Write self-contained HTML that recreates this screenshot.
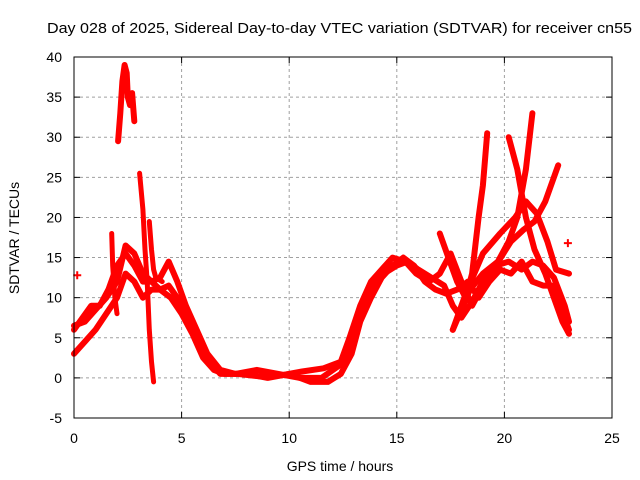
<!DOCTYPE html>
<html><head><meta charset="utf-8"><style>
body{margin:0;background:#fff;}
svg{display:block;font-family:"Liberation Sans",sans-serif;}
</style></head><body>
<svg id="chart" width="640" height="480">
<rect width="640" height="480" fill="#fff"/>
<text x="47" y="33" font-size="15" textLength="585" lengthAdjust="spacingAndGlyphs" fill="#000">Day 028 of 2025, Sidereal Day-to-day VTEC variation (SDTVAR) for receiver cn55</text>
<text x="340" y="471" font-size="14" text-anchor="middle">GPS time / hours</text>
<text transform="translate(19,238) rotate(-90)" font-size="14" text-anchor="middle">SDTVAR / TECUs</text>
<g id="grid"></g><g id="marks"></g><g id="axes"></g>
</svg>
<script>
const xTicks=[0,5,10,15,20,25];
const yTicks=[-5,0,5,10,15,20,25,30,35,40];
// tracks: [hour, value] pairs
const trackA=[[0,6.5],[0.5,7],[1,8.5],[1.5,10],[2,12],[2.4,16.5],[2.8,15.5],[3.2,13],[3.6,12],[4,12.5],[4.4,14.5],[4.8,12],[5.2,9],[5.7,6],[6.2,3],[6.8,1],[7.5,0.5],[8.5,1],[9.5,0.5],[10.5,0],[11.5,0],[12.3,1.5],[12.8,4],[13.3,8],[13.8,11],[14.4,13],[15,14],[15.5,14.5],[16,13.5],[16.6,12.5],[17.2,11.5],[17.6,9],[18,7.5],[18.5,9.5],[19,12],[19.6,14],[20.2,14.5],[20.8,13.5],[21.3,14.5],[21.8,14],[22.3,12.5],[22.8,9],[23,7]];
const trackB=[[0,3],[0.5,4.5],[1,6],[1.5,8],[2,10],[2.4,13],[2.8,12],[3.2,10],[3.6,11],[4,11],[4.5,10],[5,8],[5.5,5.5],[6,2.5],[6.5,1],[7,0.5],[8,0.5],[9,0],[10,0.5],[11,-0.5],[11.8,-0.5],[12.4,0.5],[12.9,3],[13.3,7],[13.8,10],[14.3,12.5],[14.8,14],[15.3,15],[15.8,14],[16.3,12],[16.8,11],[17.3,10.5],[17.8,11],[18.3,12],[18.8,10],[19.3,12],[19.8,13.5],[20.3,13],[20.8,14.5],[21.3,12],[21.8,11.5],[22.2,11.5],[22.6,9],[23,6]];
const trackC=[[0,6],[0.4,7.5],[0.8,9],[1.2,9],[1.6,11],[2,14],[2.4,15.5],[2.8,14],[3.2,12],[3.6,12],[4,11],[4.4,11.5],[4.8,10],[5.3,7],[5.8,4.5],[6.3,2],[6.8,0.5],[7.6,0.5],[8.6,0.2],[9.6,0.3],[10.6,0.8],[11.6,1.2],[12.4,2],[12.8,5],[13.3,9],[13.8,12],[14.3,13.5],[14.8,15],[15.4,14.5],[15.9,13],[16.5,12],[17,13],[17.5,15.5],[18,12],[18.5,9],[19,11.5],[19.6,14],[20.3,17],[20.9,18.5],[21.4,19.5],[21.9,22],[22.5,26.5]];
const trackD=[[17,18],[17.4,15],[17.8,12],[18.2,10],[18.5,13],[18.8,20],[19,24],[19.2,30.5]];
const trackE=[[20.2,30],[20.6,26],[21,20],[21.4,16],[21.9,13],[22.3,10],[22.7,7],[23,5.5]];
const trackF=[[21.3,33],[21,26],[20.6,20],[20.2,17],[19.7,14.5],[19,13],[18.4,11],[17.6,6]];
const trackG=[[17.6,6],[18.2,10.5],[19,15.5],[19.8,18],[20.5,20],[21,22],[21.5,20.5],[22,17],[22.4,13.5],[23,13]];
const spike1=[[2.05,29.5],[2.15,33],[2.25,37],[2.35,39],[2.45,38],[2.5,35],[2.6,34],[2.7,35.5],[2.8,32]];
const spike2=[[3.05,25.5],[3.2,21],[3.3,16],[3.4,12],[3.5,6],[3.6,2],[3.7,-0.5]];
const spike3=[[3.5,19.5],[3.6,16],[3.7,13.5],[3.8,12.5],[4.1,12]];
const spike4=[[1.75,18],[1.8,14],[1.9,10],[2.0,8]];
const dots=[[0.15,12.8],[22.95,16.8]];
const X=v=>74+v*(538/25), Y=v=>418-(v+5)*(361/45);
const NS='http://www.w3.org/2000/svg';
const grid=document.getElementById('grid'),axes=document.getElementById('axes'),marks=document.getElementById('marks');
function mk(t,a,p){const e=document.createElementNS(NS,t);for(const k in a)e.setAttribute(k,a[k]);p.appendChild(e);return e;}
xTicks.forEach(t=>{
 if(t>0&&t<25){const g=mk('line',{x1:X(t),x2:X(t),y1:57,y2:418,stroke:'#a0a0a0','stroke-dasharray':'3,3'},grid);
 
 }
 const tx=mk('text',{x:X(t),y:443,'font-size':14,'text-anchor':'middle'},axes);tx.textContent=t;
 
 
 mk('line',{x1:X(t),x2:X(t),y1:418,y2:412,stroke:'#000'},axes);mk('line',{x1:X(t),x2:X(t),y1:57,y2:63,stroke:'#000'},axes);
});
yTicks.forEach(t=>{
 if(t>-5&&t<40){const g=mk('line',{x1:74,x2:612,y1:Y(t),y2:Y(t),stroke:'#a0a0a0','stroke-dasharray':'3,3'},grid);
 
 }
 const tx=mk('text',{x:62,y:Y(t)+5,'font-size':14,'text-anchor':'end'},axes);tx.textContent=t;
 
 
 mk('line',{x1:74,x2:80,y1:Y(t),y2:Y(t),stroke:'#000'},axes);mk('line',{x1:606,x2:612,y1:Y(t),y2:Y(t),stroke:'#000'},axes);
});
const frame=mk('rect',{x:74,y:57,width:538,height:361,fill:'none',stroke:'#000'},axes);


function track(d,w,name){
 const p=mk('path',{d:'M'+d.map(q=>X(q[0]).toFixed(1)+','+Y(q[1]).toFixed(1)).join('L'),fill:'none',stroke:'#ff0000','stroke-width':w,'stroke-linejoin':'round','stroke-linecap':'round'},marks);
 
 
}
track(trackA,6,'track-a');track(trackB,6,'track-b');track(trackC,6,'track-c');
track(trackD,6,'track-d');track(trackE,6,'track-e');track(trackF,6,'track-f');track(trackG,6,'track-g');
track(spike1,6,'spike-1');track(spike2,5,'spike-2');track(spike3,5,'spike-3');track(spike4,5,'spike-4');
dots.forEach(d=>{const c=mk('path',{d:`M${X(d[0])-4},${Y(d[1])}h8M${X(d[0])},${Y(d[1])-4}v8`,stroke:'#ff0000','stroke-width':2},marks);
 
 });
</script>
</body></html>
